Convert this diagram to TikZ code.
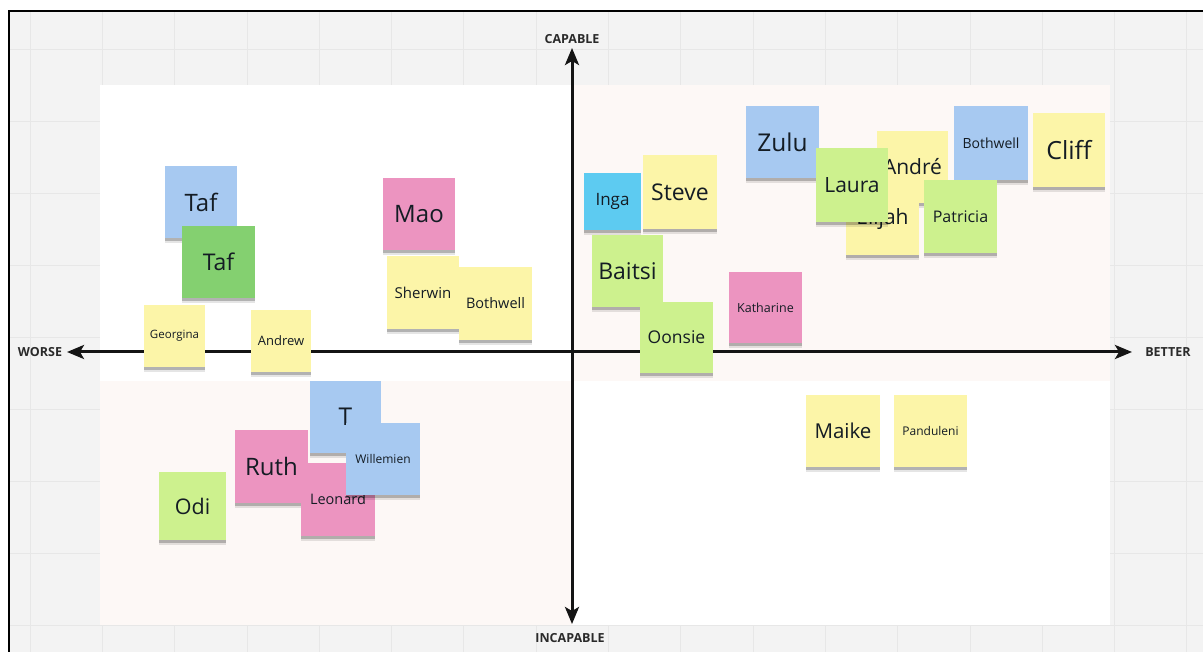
\documentclass[tikz,border=0pt]{standalone}
\usepackage{fontspec}
\setmainfont{Open Sans}
\usetikzlibrary{arrows.meta,shadows}

\definecolor{board}{HTML}{F3F3F3}
\definecolor{gridc}{HTML}{E7E7E7}
\definecolor{tint}{HTML}{FDF8F6}
\definecolor{ink}{HTML}{141C24}
\definecolor{labelc}{HTML}{2A2A2A}
\definecolor{nyellow}{HTML}{FCF5A8}
\definecolor{nblue}{HTML}{A7C9F1}
\definecolor{ncyan}{HTML}{5DCBF1}
\definecolor{nlime}{HTML}{CDF18E}
\definecolor{ngreen}{HTML}{84D070}
\definecolor{npink}{HTML}{EC94C0}

\tikzset{
  gridline/.style={draw=gridc, line width=0.8pt},
  note/.style={rectangle, inner sep=0pt, align=center, text=ink,
    general shadow={shadow xshift=0pt, shadow yshift=-5pt,
      xscale=0.9, yscale=0.97, fill=black, opacity=0.10},
    general shadow={shadow xshift=0pt, shadow yshift=-3pt,
      xscale=0.82, yscale=0.98, fill=black, opacity=0.22}},
  axisline/.style={line width=3pt, draw=black!92,
    {Stealth[length=17pt,width=14pt,inset=4pt]}-{Stealth[length=17pt,width=14pt,inset=4pt]}},
  axislabel/.style={inner sep=0pt, text=labelc, font=\bfseries\fontsize{12.5}{12.5}\selectfont}
}

% sticky note: name, x0, y0, x1, y1, colour, font size, text
\newcommand{\stickynote}[8]{%
  \node[note, fill=#6, minimum width={(#4-#2)*1pt}, minimum height={(#5-#3)*1pt},
        font=\fontsize{#7}{#7}\selectfont]
        (#1) at ({(#2+#4)/2},{(#3+#5)/2}) {#8};}

\begin{document}
\begin{tikzpicture}[x=1pt,y=-1pt]
  \useasboundingbox (0,0) rectangle (1203,652);

  % whiteboard with grid and frame
  \fill[board] (9,11) rectangle (1203,652);
  \foreach \i in {0,...,16} \draw[gridline] ({30+72.3*\i},12) -- ({30+72.3*\i},652);
  \foreach \j in {0,...,8} \draw[gridline] (10,{49+72*\j}) -- (1203,{49+72*\j});
  \draw[line width=2pt] (9,652) -- (9,11) -- (1203,11);

  % quadrant panel
  \fill[white] (100,85) rectangle (1110,625);
  \fill[tint] (572,85) rectangle (1110,381);
  \fill[tint] (100,381) rectangle (572,625);

  % axes
  \node[axislabel] (capable) at (572,39) {CAPABLE};
  \node[axislabel] (incapable) at (570,638) {INCAPABLE};
  \node[axislabel] (worse) at (40,352) {WORSE};
  \node[axislabel] (better) at (1168,352) {BETTER};
  \coordinate (ytop) at (572,48);
  \coordinate (ybot) at (572,624);
  \coordinate (xleft) at (67,352);
  \coordinate (xright) at (1132,352);
  \draw[axisline] (ybot) -- (ytop);
  \draw[axisline] (xleft) -- (xright);

  % capable, worse
  \stickynote{tafa}{165}{166}{237}{238}{nblue}{24}{Taf}
  \stickynote{tafb}{182}{226}{255}{298}{ngreen}{23}{Taf}
  \stickynote{mao}{383}{178}{455}{250}{npink}{24}{Mao}
  \stickynote{sherwin}{387}{256}{459}{329}{nyellow}{15}{Sherwin}
  \stickynote{bothwella}{459}{267}{532}{340}{nyellow}{14.5}{Bothwell}
  \stickynote{georgina}{144}{305}{205}{367}{nyellow}{11.5}{Georgina}
  \stickynote{andrew}{251}{310}{311}{372}{nyellow}{13}{Andrew}

  % capable, better
  \stickynote{inga}{584}{173}{641}{230}{ncyan}{17}{Inga}
  \stickynote{steve}{643}{155}{717}{229}{nyellow}{23}{Steve}
  \stickynote{baitsi}{592}{235}{663}{307}{nlime}{23}{Baitsi}
  \stickynote{oonsie}{640}{302}{713}{373}{nlime}{17.5}{Oonsie}
  \stickynote{katharine}{729}{272}{802}{343}{npink}{12.5}{Katharine}
  \stickynote{zulu}{746}{106}{819}{178}{nblue}{24.5}{Zulu}
  \stickynote{andre}{877}{131}{948}{203}{nyellow}{21}{André}
  \stickynote{elijah}{846}{183}{919}{255}{nyellow}{21}{Elijah}
  \stickynote{laura}{816}{148}{888}{222}{nlime}{21}{Laura}
  \stickynote{bothwellb}{954}{106}{1028}{180}{nblue}{14}{Bothwell}
  \stickynote{patricia}{924}{180}{997}{253}{nlime}{16}{Patricia}
  \stickynote{cliff}{1033}{113}{1105}{187}{nyellow}{25}{Cliff}

  % incapable, worse
  \stickynote{ruth}{235}{430}{308}{503}{npink}{24}{Ruth}
  \stickynote{leonard}{301}{463}{375}{536}{npink}{14.5}{Leonard}
  \stickynote{tnote}{310}{381}{381}{453}{nblue}{24.5}{T}
  \stickynote{willemien}{346}{423}{420}{495}{nblue}{12}{Willemien}
  \stickynote{odi}{159}{472}{226}{540}{nlime}{21.5}{Odi}

  % incapable, better
  \stickynote{maike}{806}{395}{880}{467}{nyellow}{20.5}{Maike}
  \stickynote{panduleni}{894}{395}{967}{467}{nyellow}{12}{Panduleni}
\end{tikzpicture}
\end{document}
